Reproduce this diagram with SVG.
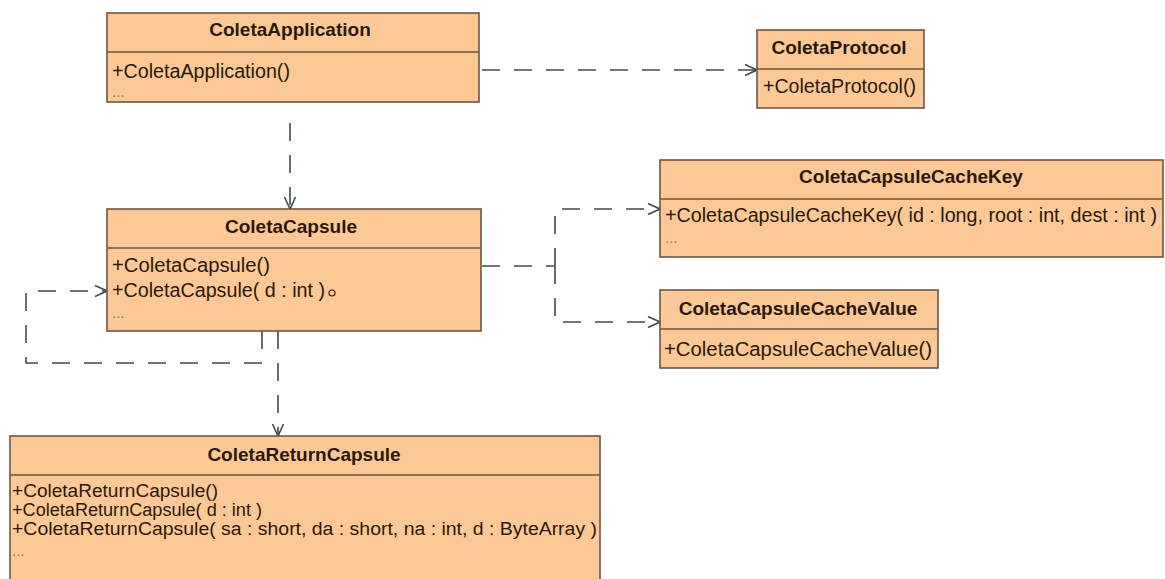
<svg xmlns="http://www.w3.org/2000/svg" width="1165" height="579" viewBox="0 0 1165 579">
  <style>
    .box { fill: #fcc996; stroke: #6e5642; stroke-width: 1.6; }
    .sep { stroke: #6e5642; stroke-width: 1.6; }
    .title { font-family: "Liberation Sans", Arial, sans-serif; font-weight: bold; font-size: 19px; fill: #2a180c; text-anchor: middle; }
    .member { font-family: "Liberation Sans", Arial, sans-serif; font-size: 20px; fill: #2a180c; }
    .compact { font-size: 18px; }
    .more { font-family: "Liberation Sans", Arial, sans-serif; font-size: 15px; fill: #8a7662; }
    .dep { fill: none; stroke: #3e4a52; stroke-width: 1.6; stroke-dasharray: 18 14; }
  </style>
  <defs>
    <marker id="open" viewBox="0 0 14 14" refX="13" refY="7" markerWidth="14" markerHeight="14" markerUnits="userSpaceOnUse" orient="auto">
      <path d="M1,1.5 L13,7 L1,12.5" fill="none" stroke="#3e4a52" stroke-width="1.6"/>
    </marker>
  </defs>

  <rect width="1165" height="579" fill="#ffffff"/>

  <!-- dependency connectors -->
  <g id="connectors">
    <path class="dep" d="M482,70 H757" marker-end="url(#open)"/>
    <path class="dep" d="M290,123 V209" marker-end="url(#open)"/>
    <path class="dep" d="M482,266 H555"/>
    <path class="dep" d="M555,266 V209 H660" marker-end="url(#open)"/>
    <path class="dep" d="M555,266 V322 H660" marker-end="url(#open)"/>
    <path class="dep" d="M262,331 V363 H26 V291 H107" marker-end="url(#open)"/>
    <path class="dep" d="M278,331 V436" marker-end="url(#open)"/>
  </g>

  <g id="ColetaApplication">
    <rect class="box" x="107" y="13" width="372" height="89"/>
    <line class="sep" x1="107" y1="52" x2="479" y2="52"/>
    <text class="title" x="290" y="36">ColetaApplication</text>
    <text class="member" x="112" y="78" textLength="178" lengthAdjust="spacingAndGlyphs">+ColetaApplication()</text>
    <text class="more" x="112" y="97">...</text>
  </g>

  <g id="ColetaProtocol">
    <rect class="box" x="757" y="30" width="167" height="78"/>
    <line class="sep" x1="757" y1="69" x2="924" y2="69"/>
    <text class="title" x="839" y="54">ColetaProtocol</text>
    <text class="member" x="763" y="93" textLength="153" lengthAdjust="spacingAndGlyphs">+ColetaProtocol()</text>
  </g>

  <g id="ColetaCapsule">
    <rect class="box" x="107" y="209" width="374" height="122"/>
    <line class="sep" x1="107" y1="248" x2="481" y2="248"/>
    <text class="title" x="291" y="233">ColetaCapsule</text>
    <text class="member" x="112" y="272" textLength="158" lengthAdjust="spacingAndGlyphs">+ColetaCapsule()</text>
    <text class="member" x="112" y="297" textLength="213" lengthAdjust="spacingAndGlyphs">+ColetaCapsule( d : int )</text>
    <circle cx="332" cy="293" r="3" fill="none" stroke="#2a180c" stroke-width="1.1"/>
    <text class="more" x="112" y="318">...</text>
  </g>

  <g id="ColetaCapsuleCacheKey">
    <rect class="box" x="660" y="160" width="503" height="97"/>
    <line class="sep" x1="660" y1="199" x2="1163" y2="199"/>
    <text class="title" x="911" y="183">ColetaCapsuleCacheKey</text>
    <text class="member" x="665" y="222" textLength="492" lengthAdjust="spacingAndGlyphs">+ColetaCapsuleCacheKey( id : long, root : int, dest : int )</text>
    <text class="more" x="665" y="243">...</text>
  </g>

  <g id="ColetaCapsuleCacheValue">
    <rect class="box" x="660" y="290" width="278" height="78"/>
    <line class="sep" x1="660" y1="329" x2="938" y2="329"/>
    <text class="title" x="798" y="315">ColetaCapsuleCacheValue</text>
    <text class="member" x="664" y="356" textLength="268" lengthAdjust="spacingAndGlyphs">+ColetaCapsuleCacheValue()</text>
  </g>

  <g id="ColetaReturnCapsule">
    <rect class="box" x="10" y="436" width="590" height="160"/>
    <line class="sep" x1="10" y1="475" x2="600" y2="475"/>
    <text class="title" x="304" y="461">ColetaReturnCapsule</text>
    <text class="member compact" x="12" y="497" textLength="206" lengthAdjust="spacingAndGlyphs">+ColetaReturnCapsule()</text>
    <text class="member compact" x="12" y="516" textLength="250" lengthAdjust="spacingAndGlyphs">+ColetaReturnCapsule( d : int )</text>
    <text class="member compact" x="12" y="535" textLength="585" lengthAdjust="spacingAndGlyphs">+ColetaReturnCapsule( sa : short, da : short, na : int, d : ByteArray )</text>
    <text class="more" x="12" y="556">...</text>
  </g>
</svg>
